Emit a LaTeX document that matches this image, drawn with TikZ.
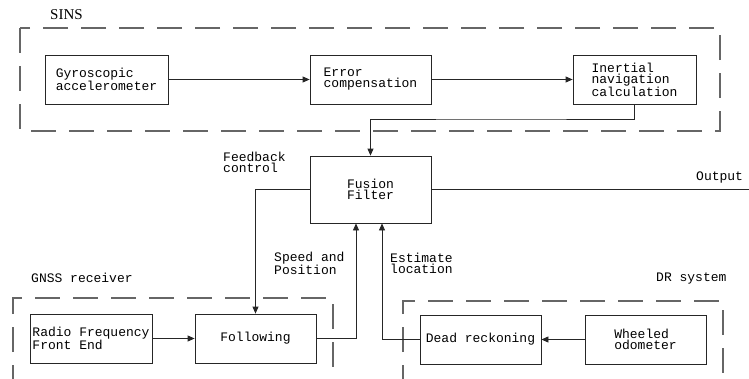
\documentclass[tikz,border=0pt]{standalone}
\usepackage{fontspec}
\setmainfont{Liberation Mono}
\newfontfamily\seriff{Liberation Serif}
\usetikzlibrary{arrows.meta,calc}
\tikzset{
  blk/.style={draw=black!85, line width=0.8pt, minimum width=121pt, minimum height=49pt, inner sep=0pt, align=left, font=\fontsize{13}{11}\selectfont},
  lbl/.style={inner sep=0pt, anchor=west, align=left, font=\fontsize{13}{11}\selectfont},
  arr/.style={line width=0.8pt, draw=black!85, -{Triangle[length=7pt,width=6pt]}},
  ln/.style={line width=0.8pt, draw=black!85},
  grp/.style={draw=black!60, line width=1.4pt, dash pattern=on 25pt off 13pt},
}
\begin{document}
\begin{tikzpicture}[x=1pt,y=-1pt]
\useasboundingbox (0,0) rectangle (749,378);
\clip (0,0) rectangle (749,378);
% group frames
\draw[grp] (20,28) rectangle (720,131);
\draw[grp] (13,390) -- (13,298) -- (333,298) -- (333,390);
\draw[grp] (403,390) -- (403,301) -- (723,301) -- (723,390);
% labels
\node[inner sep=0pt, anchor=west, font=\seriff\fontsize{15}{15}\selectfont] (tsins) at (50,15) {SINS};
\node[lbl] (tgnss) at (31,278) {GNSS receiver};
\node[lbl] (tdr) at (656,279) {DR system};
\node[lbl] (tout) at (696,177) {Output};
\node[lbl] (tfb) at (223,162) {Feedback\\control};
\node[lbl] (tsp) at (274,263) {Speed and\\Position};
\node[lbl] (tes) at (390,263) {Estimate\\location};
% blocks
\node[blk, minimum width=123pt] (gyro) at (106.5,79.5) {Gyroscopic\\accelerometer};
\node[blk] (err) at (370.5,79.5) {Error\\compensation};
\node[blk, minimum width=123pt] (ins) at (634.5,79.5) {Inertial\\navigation\\calculation};
\node[blk, minimum height=67pt] (fus) at (370.5,189.5) {Fusion\\Filter};
\node[blk, minimum width=122pt] (rf) at (91,338.5) {Radio Frequency\\Front End};
\node[blk] (fol) at (255.5,338.5) {Following};
\node[blk] (dr) at (480.5,339.5) {Dead reckoning};
\node[blk] (odo) at (645.5,339.5) {Wheeled\\odometer};
\coordinate (c1) at (500,119);
\coordinate (out) at (749,189.5);
% connectors
\draw[arr] (gyro.east) -- (err.west);
\draw[arr] (err.east) -- (ins.west);
\draw[arr] (ins.south) |- (c1) -| (fus.north);
\draw[arr] (fus.west) -| (fol.north);
\draw[ln] (fus.east) -- (out);
\draw[arr] (rf.east) -- (fol.west);
\draw[arr] (fol.east) -| ([xshift=-14.5pt]fus.south);
\draw[arr] (odo.west) -- (dr.east);
\draw[arr] (dr.west) -| ([xshift=11.5pt]fus.south);
\end{tikzpicture}
\end{document}
